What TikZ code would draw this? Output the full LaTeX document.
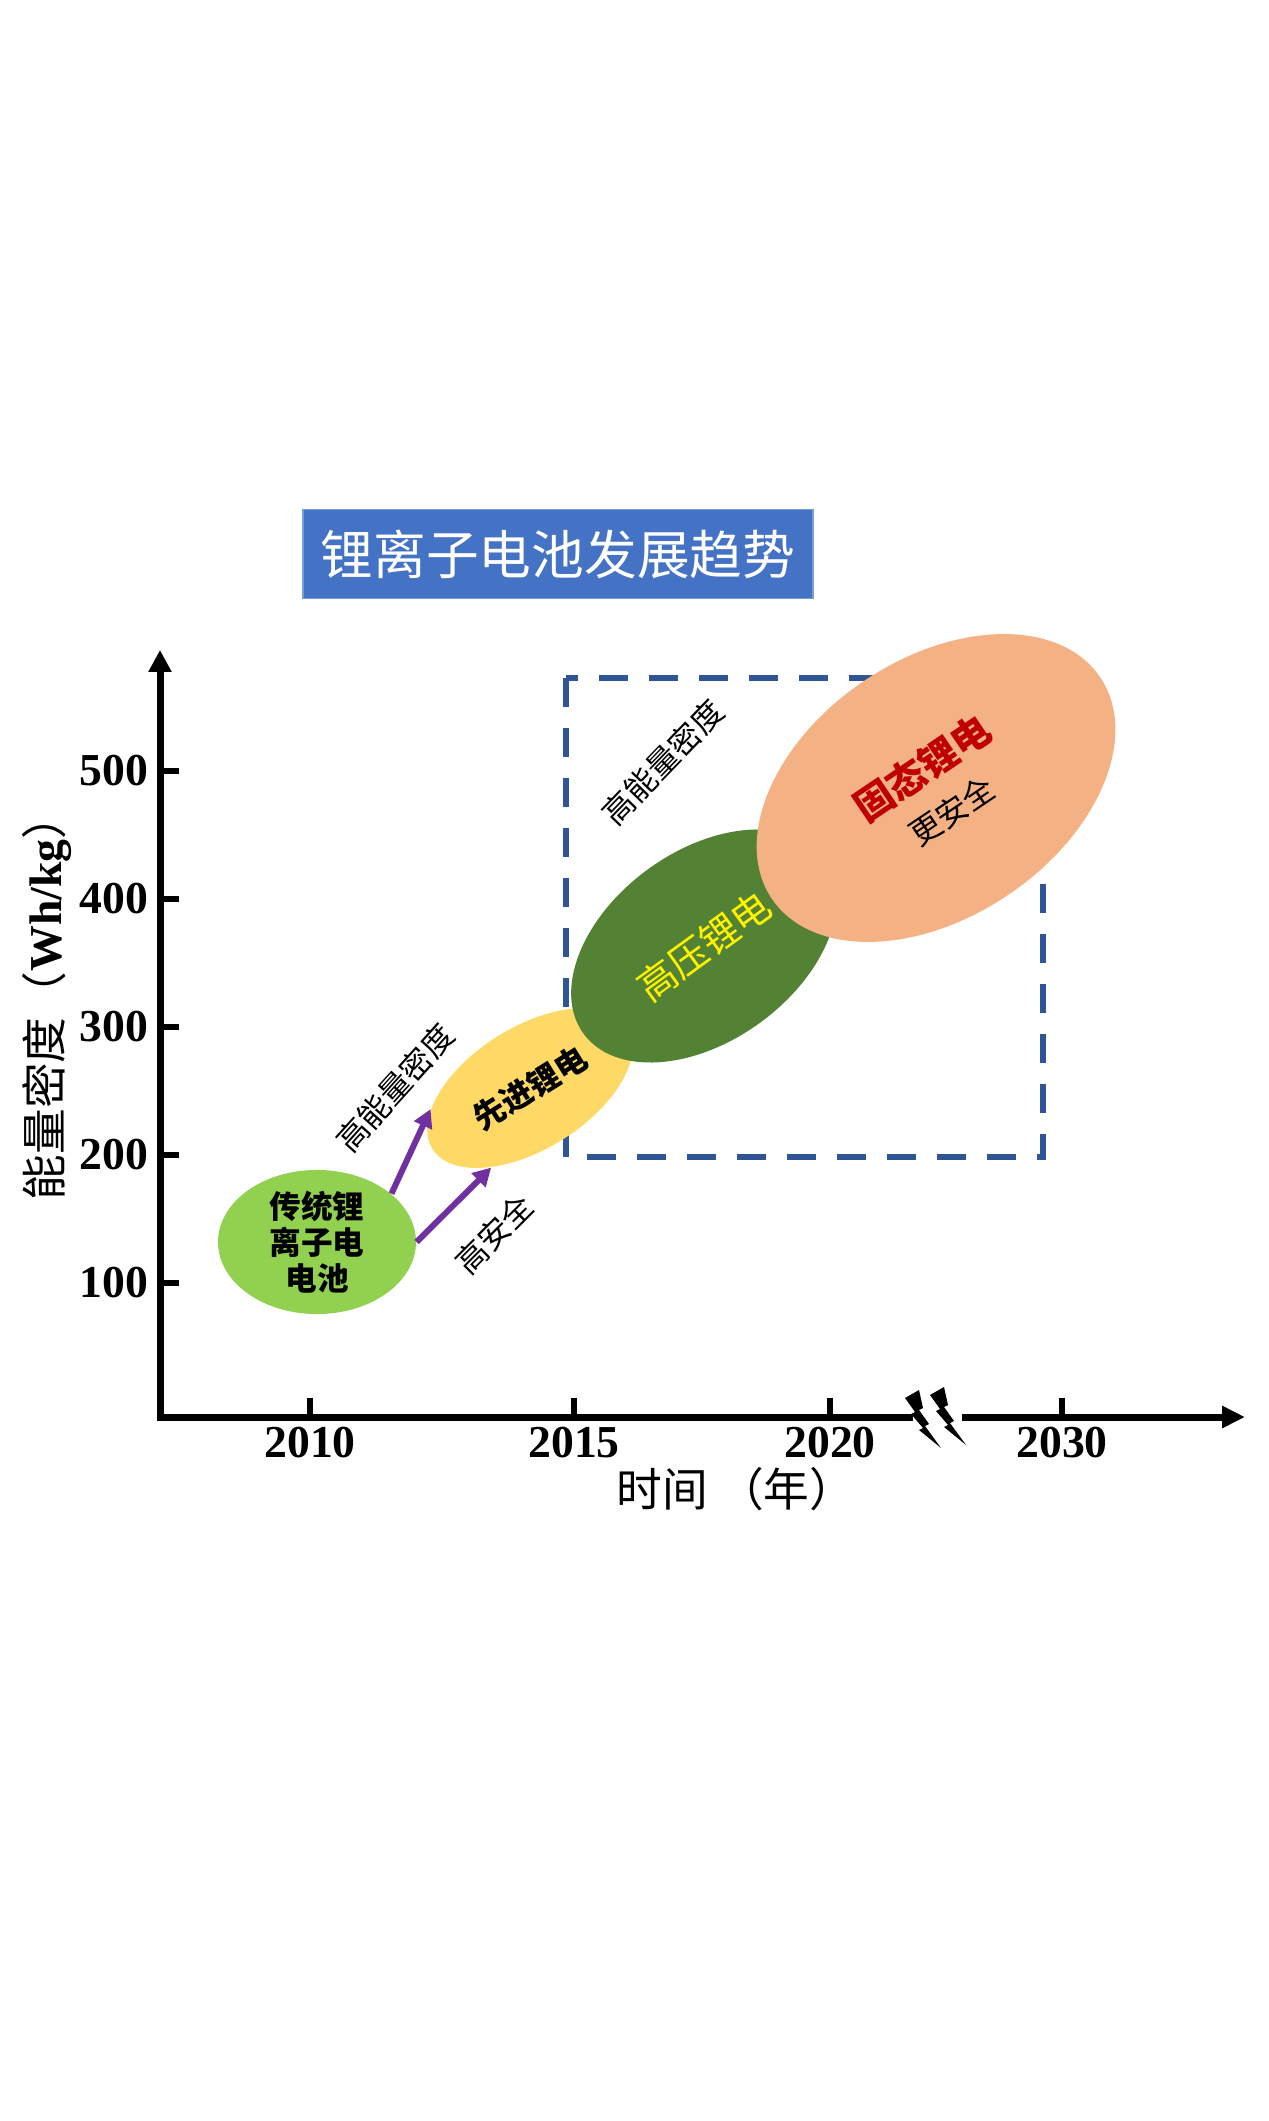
\documentclass[tikz,border=0pt]{standalone}
\usepackage{fontspec}
\setmainfont{Liberation Serif}
\newfontfamily\cjk{Noto Sans CJK SC}
\usetikzlibrary{arrows.meta, shapes.geometric}
\definecolor{titleblue}{HTML}{4472C4}
\definecolor{boxblue}{HTML}{2F5597}
\definecolor{oldgreen}{HTML}{92D050}
\definecolor{advyellow}{HTML}{FFD966}
\definecolor{hvgreen}{HTML}{548235}
\definecolor{solidsalmon}{HTML}{F4B183}
\definecolor{arrowpurple}{HTML}{7030A0}
\definecolor{solidred}{HTML}{C00000}
\tikzstyle{ell_base} = [ellipse, inner sep=0pt, text centered, align=center]
\tikzstyle{axis_line} = [line width=0.7mm]
\tikzstyle{tick_line} = [line width=0.55mm]
\tikzstyle{arrow} = [line width=0.6mm, arrowpurple, -{Triangle[length=1.8mm,width=1.9mm]}]
\tikzstyle{note} = [font=\cjk\fontsize{9}{11}\selectfont, inner sep=0pt]
\tikzstyle{num} = [font=\bfseries\fontsize{13}{15}\selectfont, inner sep=0pt]
\tikzstyle{dash_box} = [line width=0.55mm, boxblue, dash pattern=on 2.9mm off 2.1mm]

\begin{document}
\begin{tikzpicture}[x=0.1mm, y=-0.1mm]
\useasboundingbox (0,0) rectangle (1268,2121);
\fill[white] (0,0) rectangle (1268,2121);

% Titel
\node[fill=titleblue, draw=titleblue!70, minimum width=51mm, minimum height=8.9mm, text=white, font=\cjk\fontsize{15}{17}\selectfont] (title) at (558,554) {锂离子电池发展趋势};

% Achsen
\coordinate (origin) at (160,1417);
\coordinate (ytop) at (160,650);
\coordinate (gapl) at (913,1417);
\coordinate (gapr) at (962,1417);
\coordinate (xend) at (1245,1417);
\draw[axis_line, {Triangle[length=2.2mm,width=2.2mm]}-] (ytop) -- (origin) -- (gapl);
\draw[axis_line, -{Triangle[length=2.3mm,width=2.1mm]}] (gapr) -- (xend);
\foreach \dx/\dy in {0/0, 25/-3}
  \fill[shift={(905+\dx,1398+\dy)}] (0,0) -- (14,-8) -- (18,10) -- (14,12) -- (24,26) -- (20,28) -- (36,50) -- (14,32) -- (18,30) -- (6,16) -- (10,14) -- cycle;

\foreach \v in {100,200,300,400,500}{
  \pgfmathsetmacro{\yy}{1411-1.28*\v}
  \draw[tick_line] (160,\yy) -- ++(19,0);
  \node[num, anchor=east] (ylab\v) at (149,\yy) {\v};
}
\foreach \xx/\yr in {310/2010, 574/2015, 830/2020, 1062/2030}{
  \draw[tick_line] (\xx,1417) -- ++(0,-19);
  \node[num] (xlab\yr) at (\xx,1443) {\yr};
}
\node[font=\fontsize{13}{15}\selectfont, rotate=90] (ylabel) at (47,997) {{\cjk 能量密度（}{\bfseries Wh/kg}{\cjk ）}};
\node[font=\cjk\fontsize{13}{15}\selectfont] (xlabel) at (736,1489) {时间 （年）};

% Bereich
\draw[dash_box] (566,678) rectangle (1043,1157);

% Batterien
\node[ell_base, fill=oldgreen, minimum width=19.8mm, minimum height=13.5mm, font=\cjk\bfseries\fontsize{9}{10.2}\selectfont] (trad) at (317,1242) {传统锂\\离子电\\电池};
\node[ell_base, fill=advyellow, minimum width=23mm, minimum height=12.2mm, rotate=32, font=\cjk\bfseries\fontsize{9}{11}\selectfont] (adv) at (530,1088) {先进锂电};
\node[ell_base, fill=hvgreen, minimum width=29.8mm, minimum height=19mm, rotate=36, text=yellow, font=\cjk\fontsize{11}{13}\selectfont] (hv) at (704,946) {高压锂电};
\node[ell_base, fill=solidsalmon, minimum width=39.6mm, minimum height=25.8mm, rotate=34, font=\cjk\fontsize{9}{14}\selectfont] (solid) at (936,788) {{\color{solidred}\bfseries\fontsize{11}{14}\selectfont 固态锂电}\\更安全};

% Entwicklung
\draw[arrow] (trad.33) -- (adv.160);
\draw[arrow] (trad.east) -- (adv.212);
\node[note, rotate=48] (upnote) at (395,1088) {高能量密度};
\node[note, rotate=45] (safenote) at (494,1234) {高安全};
\node[note, rotate=46] (boxnote) at (663,762) {高能量密度};

\end{tikzpicture}
\end{document}
